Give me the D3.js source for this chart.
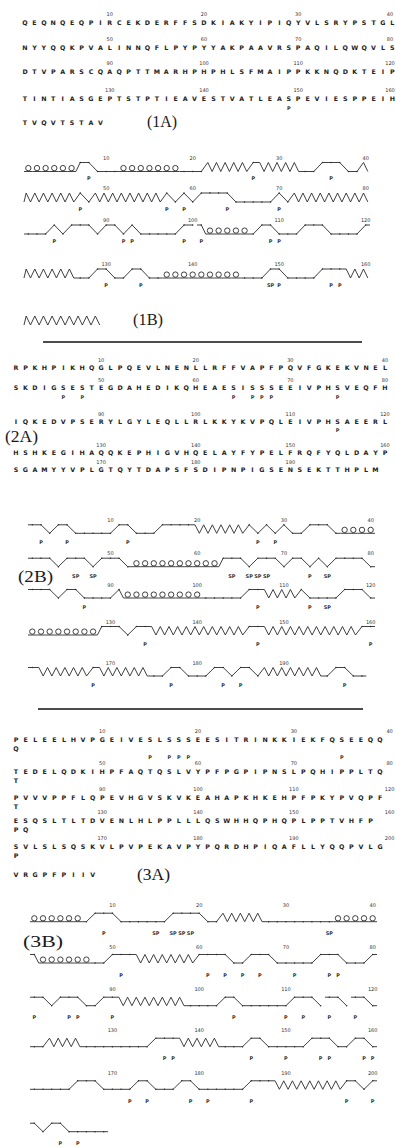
<!DOCTYPE html>
<html><head><meta charset="utf-8">
<script src="https://cdn.jsdelivr.net/npm/d3@7"></script>
<style>
body{margin:0;background:#fff}
svg{display:block}
.res{font-family:"DejaVu Sans";font-weight:bold;font-size:6.3px;text-anchor:middle;fill:#222}
.tick{font-family:"DejaVu Sans";font-size:5px;text-anchor:middle;fill:#333}
.mark{font-family:"DejaVu Sans";font-weight:bold;font-size:5px;text-anchor:middle;fill:#333}
.lbl{font-family:"Liberation Serif";font-size:17px;fill:#1a1a1a}
.ss{fill:none;stroke:#2a2a2a;stroke-width:0.9;stroke-linejoin:round}
.loop{fill:none;stroke:#2a2a2a;stroke-width:0.9}
.dot{fill:#2a2a2a}
</style>
</head><body>
<svg id="c" width="396" height="1146"></svg>
<script>
// ---------------- DATA ----------------
// Protein 1: sequence rows (40 residues per row)
const seq1 = [
  "QEQNQEQPIRCEKDERFFSDKIAKYIPIQYVLSRYPSTGL",
  "NYYQQKPVALINNQFLPYPYYAKPAAVRSPAQILQWQVLS",
  "DTVPARSCQAQPTTMARHPHPHLSFMAIPPKKNQDKTEIP",
  "TINTIASGEPTSTPTIEAVESTVATLEASPEVIESPPEIH",
  "TVQVTSTAV"
];
const phos1 = [149];
// secondary structure per residue: h helix, e sheet, _ coil(low), - turn(high), ^ turn starting new stroke
const struct1 = [
  "hhhhhh--___hhhhhhh___eeeee-eeeee__---__e",
  "eeeeee-_eeeeeeee-_-_----_____-_eeeeeeeee",
  "___-_---_--_-_____--^hhhhh_--___---____-",
  "eeeeee__--__--__hhhhhhhhh___--____---eee",
  "eeeeeeeee"
];
const pro1 = [8, 27, 36, 47, 57, 59, 64, 70, 84, 92, 93, 99, 101, 109, 110, 130, 134, 150, 156, 157];
const sp1 = [149];

// Protein 2
const seq2 = [
  "RPKHPIKHQGLPQEVLNENLLRFFVAPFPQVFGKEKVNEL",
  "SKDIGSESTEGDAHEDIKQHEAESISSSEEIVPHSVEQFH",
  "IQKEDVPSERYLGYLEQLLRLKKYKVPQLEIVPHSAEERL",
  "HSHKEGIHAQQKEPHIGVHQELAYFYPELFRQFYQLDAYP",
  "SGAMYYVPLGTQYTDAPSFSDIPNPIGSENSEKTTHPLM"
];
const phos2 = [46, 48, 64, 66, 67, 68, 75, 115];
const struct2 = [
  "--_--_____--___----eeeeee-_-_-__---_hhhh",
  "---_---_---_hhhhhhhhhh---_---_--_-_----_",
  "---_--____-hhhhhhhhh_____--eeee-____---_",
  "hhhhhhhh---_--eeeeeeeeeee--eeeeeeeeeee--",
  "-eeeeee-eeeeee__--___--_--_eeeeeee_--__"
];
const pro2 = [2, 5, 12, 27, 29, 73, 87, 107, 113, 134, 147, 160, 168, 177, 183, 185, 197];
const sp2 = [46, 48, 64, 66, 67, 68, 75, 115];

// Protein 3
const seq3 = [
  "PELEELHVPGEIVESLSSSEESITRINKKIEKFQSEEQQQ",
  "TEDELQDKIHPFAQTQSLVYPFPGPIPNSLPQHIPPLTQT",
  "PVVVPPFLQPEVHGVSKVKEAHAPKHKEHPFPKYPVQPFT",
  "ESQSLTLTDVENLHLPPLLLQSWHHQPHQPLPPTVHFPPQ",
  "SVLSLSQSKVLPVPEKAVPYPQRDHPIQAFLLYQQPVLGP",
  "VRGPFPIIV"
];
const wrap3 = [1, 1, 1, 2, 1, 0];
const phos3 = [15, 17, 18, 19, 35];
const struct3 = [
  "hhhhhh_---______----__eeeee________hhhhh",
  "-hhhhhh__---eeeeeee----__---_____---___-",
  "--_---__--eeeeeeee____--______---_^-_^-_",
  "__eeee________---eeeee___--_____---__--_",
  "_____---____--___--______---eeeeeeee--_-",
  "-_--_____"
];
const pro3 = [9, 51, 61, 63, 65, 67, 71, 75, 76, 81, 85, 86, 90, 104, 110, 112, 115, 118,
  136, 137, 146, 150, 154, 155, 159, 160, 172, 174, 179, 181, 186, 197, 200, 204, 206];
const sp3 = [15, 17, 18, 19, 35];

const panelLabels = ["(1A)", "(1B)", "(2A)", "(2B)", "(3A)", "(3B)"];

// ---------------- LAYOUT ----------------
const svg = d3.select("#c");
const L = {
  s1: {x0: 25, dx: 9.42, ys: [22.7, 47.7, 71.7, 99, 123], tickOff: 9, pOff: 9.5, wrapOff: 8.5},
  s2: {x0: 16, dx: 9.46, ys: [367.7, 388, 421.7, 453, 470], tickOff: 7.5, pOff: 8.8, wrapOff: 8.5},
  s3: {x0: 16, dx: 9.58, ys: [740, 771.7, 797.7, 821, 846.7, 875], tickOff: 8.5, pOff: 17.3, wrapOff: 8.5},
  d1: {x0: 24, x1: 370, lows: [171.5, 202, 234, 278, 325], amp: 9, tickOff: 2.7, pOff: 8.5},
  d2: {x0: 28, x1: 375, lows: [533.3, 566.7, 598, 635, 676], amp: 8.5, tickOff: 3, pOff: 11},
  d3: {x0: 30, x1: 377, lows: [921.7, 963, 1005.7, 1046.7, 1089.3, 1131.7], amp: 8.5, tickOff: 6, pOff: 13.5}
};
const labelPos = [[147, 127, 30], [133, 325, 30], [5, 442, 33], [18, 582, 35], [137, 880, 33], [23, 947, 40]];
const maxTickX = 390;

function seqBlock(rows, cfg, phos, wrap) {
  const g = svg.append("g");
  const x = d3.scaleLinear().domain([1, 40]).range([cfg.x0, cfg.x0 + 39 * cfg.dx]);
  rows.forEach((s, r) => {
    const yc = cfg.ys[r];
    const nw = wrap ? wrap[r] : 0;
    const on = s.slice(0, s.length - nw).split("");
    const off = nw ? s.slice(s.length - nw).split("") : [];
    g.append("g").selectAll("text").data(on).join("text").attr("class", "res")
      .attr("x", (d, i) => x(i + 1)).attr("y", yc + 2.3).text(d => d);
    g.append("g").selectAll("text").data(off).join("text").attr("class", "res")
      .attr("x", (d, i) => x(i + 1)).attr("y", yc + cfg.wrapOff + 2.3).text(d => d);
    const ticks = d3.range(10, s.length + 1, 10);
    g.append("g").selectAll("text").data(ticks).join("text").attr("class", "tick")
      .attr("x", d => Math.min(x(d), maxTickX)).attr("y", yc - cfg.tickOff + 1.8).text(d => r * 40 + d);
    const ph = phos.filter(p => Math.ceil(p / 40) - 1 === r);
    g.append("g").selectAll("text").data(ph).join("text").attr("class", "mark")
      .attr("x", p => x(p - r * 40)).attr("y", yc + cfg.pOff + 1.8).text("P");
  });
}

function structBlock(rows, cfg, pro, sp) {
  const g = svg.append("g");
  const xs = d3.scaleLinear().domain([0, 40]).range([cfg.x0, cfg.x1]);
  const w = xs(1) - xs(0);
  rows.forEach((s, r) => {
    const low = cfg.lows[r];
    const ys = d3.scaleLinear().domain([0, 1]).range([low, low - cfg.amp]);
    const line = d3.line().x(d => xs(d[0])).y(d => ys(d[1]));
    const segs = [[]], dots = [], loops = [];
    const codes = s.split(""), n = codes.length;
    codes.forEach((c, i) => {
      if (c === "^") segs.push([]);
      const cur = segs[segs.length - 1];
      if (c === "h") {
        cur.push([i, 0], [i + 1, 0]);
        loops.push(i + 0.5);
      } else if (c === "e") {
        if (cur.length === 0) cur.push([i, 0]);
        cur.push([i + 0.25, 1], [i + 0.75, 0]);
      } else {
        const lev = (c === "-" || c === "^") ? 1 : 0;
        if (cur.length === 0) cur.push([i, lev]);
        cur.push([i + 0.5, lev]);
        dots.push([i + 0.5, lev]);
        if (i === n - 1) cur.push([n, lev]);
      }
    });
    g.append("g").selectAll("path").data(segs.filter(sg => sg.length)).join("path")
      .attr("class", "ss").attr("d", line);
    g.append("g").selectAll("circle").data(dots).join("circle").attr("class", "dot")
      .attr("cx", d => xs(d[0])).attr("cy", d => ys(d[1])).attr("r", 0.75);
    g.append("g").selectAll("circle").data(loops).join("circle").attr("class", "loop")
      .attr("cx", d => xs(d)).attr("cy", ys(0) - 3.4).attr("r", Math.min(2.7, w * 0.31));
    const ticks = d3.range(10, n + 1, 10);
    g.append("g").selectAll("text").data(ticks).join("text").attr("class", "tick")
      .attr("x", d => xs(d - 0.5)).attr("y", ys(1) - cfg.tickOff).text(d => r * 40 + d);
    const inRow = p => Math.ceil(p / 40) - 1 === r;
    const marks = pro.filter(inRow).map(p => [p, "P"]).concat(sp.filter(inRow).map(p => [p, "SP"]));
    g.append("g").selectAll("text").data(marks).join("text").attr("class", "mark")
      .attr("x", d => xs(d[0] - r * 40 - 0.5)).attr("y", low + cfg.pOff).text(d => d[1]);
  });
}

seqBlock(seq1, L.s1, phos1, null);
structBlock(struct1, L.d1, pro1, sp1);
seqBlock(seq2, L.s2, phos2, null);
structBlock(struct2, L.d2, pro2, sp2);
seqBlock(seq3, L.s3, phos3, wrap3);
structBlock(struct3, L.d3, pro3, sp3);

// panel labels
svg.append("g").selectAll("text").data(panelLabels).join("text").attr("class", "lbl")
  .attr("x", (d, i) => labelPos[i][0]).attr("y", (d, i) => labelPos[i][1])
  .attr("textLength", (d, i) => labelPos[i][2]).attr("lengthAdjust", "spacingAndGlyphs")
  .text(d => d);

// separators
const seps = [[43, 362, 342], [38, 363, 709]];
svg.append("g").selectAll("line").data(seps).join("line")
  .attr("x1", d => d[0]).attr("x2", d => d[1]).attr("y1", d => d[2]).attr("y2", d => d[2])
  .attr("stroke", "#111").attr("stroke-width", 1.5);
</script>
</body></html>
